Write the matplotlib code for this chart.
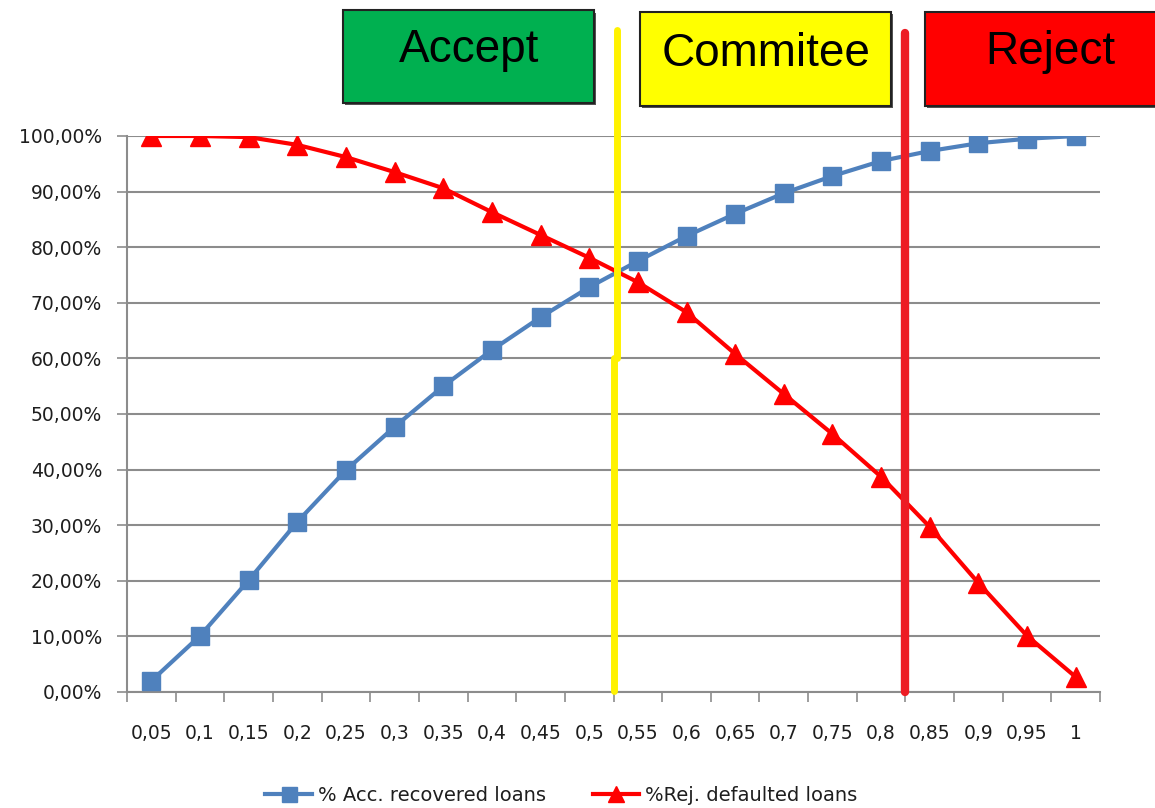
import numpy as np
import matplotlib
matplotlib.use("Agg")
import matplotlib.pyplot as plt
from matplotlib.patches import Rectangle

# cut-off scores on the x axis
cutoffs = ["0,05", "0,1", "0,15", "0,2", "0,25", "0,3", "0,35", "0,4", "0,45", "0,5",
           "0,55", "0,6", "0,65", "0,7", "0,75", "0,8", "0,85", "0,9", "0,95", "1"]

# share of recovered loans that get accepted (%)
acc_recovered = [2.0, 10.1, 20.1, 30.6, 39.9, 47.7, 55.0, 61.5, 67.4, 72.8,
                 77.5, 82.0, 86.0, 89.7, 92.8, 95.5, 97.3, 98.7, 99.5, 100.0]
# share of defaulted loans that get rejected (%)
rej_defaulted = [100.0, 100.0, 99.8, 98.4, 96.2, 93.5, 90.6, 86.3, 82.2, 78.1,
                 73.7, 68.3, 60.8, 53.6, 46.4, 38.7, 29.7, 19.6, 10.1, 2.7]

y_ticks = [0, 10, 20, 30, 40, 50, 60, 70, 80, 90, 100]
y_labels = ["0,00%", "10,00%", "20,00%", "30,00%", "40,00%", "50,00%",
            "60,00%", "70,00%", "80,00%", "90,00%", "100,00%"]

# decision boundaries (between categories) and the zones they separate
accept_cut = 9.5
reject_cut = 15.5
zones = ["Accept", "Commitee", "Reject"]
zone_colors = ["#00B050", "#FFFF00", "#FF0000"]

BLUE = "#4F81BD"
RED = "#FF0000"
GRID = "#8C8C8C"
LABEL = "#1e1e1e"

fig = plt.figure(figsize=(11.55, 8.08), dpi=100)
ax = fig.add_axes([0.110, 0.1436, 0.8424, 0.6881])

x = np.arange(len(cutoffs))
ax.plot(x, acc_recovered, color=BLUE, lw=3.0, marker="s", ms=13.5,
        label="% Acc. recovered loans", zorder=4)
ax.plot(x, rej_defaulted, color=RED, lw=3.0, marker="^", ms=14,
        label="%Rej. defaulted loans", zorder=4)

ax.set_xlim(-0.5, len(cutoffs) - 0.5)
ax.set_ylim(0, 100)

# tick marks sit between categories, labels at category centres
ax.set_xticks(np.arange(-0.5, len(cutoffs), 1.0))
ax.set_xticklabels([])
ax.set_xticks(x, minor=True)
ax.set_xticklabels(cutoffs, minor=True, fontsize=13.5, color=LABEL)
ax.tick_params(axis="x", which="major", length=7, width=1.2, color=GRID)
ax.tick_params(axis="x", which="minor", length=0, pad=23)

ax.set_yticks(y_ticks)
ax.set_yticklabels(y_labels, fontsize=13.5, color=LABEL)
ax.tick_params(axis="y", length=7, width=1.2, color=GRID, pad=11)

ax.grid(axis="y", color=GRID, lw=1.5)
ax.set_axisbelow(True)
for side in ["top", "right"]:
    ax.spines[side].set_visible(False)
for side in ["left", "bottom"]:
    ax.spines[side].set_color(GRID)
    ax.spines[side].set_linewidth(1.5)

# decision boundaries run up past the plot area towards the zone labels
ax.plot([accept_cut + 0.08, accept_cut + 0.08], [119.0, 60.0], color="#FFF200",
        lw=5, solid_capstyle="round", clip_on=False, zorder=5)
ax.plot([accept_cut, accept_cut], [60.0, 0.2], color="#FFF200",
        lw=5, solid_capstyle="round", clip_on=False, zorder=5)
ax.plot([reject_cut, reject_cut], [118.6, 0.0], color="#ED1C24",
        lw=6, solid_capstyle="round", clip_on=False, zorder=5)

# zone boxes along the top
boxes = [(0.297, 0.8725, 0.217, 0.1150),
         (0.554, 0.8688, 0.217, 0.1163),
         (0.801, 0.8688, 0.210, 0.1163)]
text_pos = [(0.406, 0.9233), (0.663, 0.9185), (0.909, 0.9210)]
for (bx, by, bw, bh), (tx, ty), name, col in zip(boxes, text_pos, zones, zone_colors):
    fig.patches.append(Rectangle((bx + 0.002, by - 0.003), bw, bh, transform=fig.transFigure,
                                 facecolor="#555555", edgecolor="none", zorder=1))
    fig.patches.append(Rectangle((bx, by), bw, bh, transform=fig.transFigure,
                                 facecolor=col, edgecolor="#222222", lw=1.5, zorder=2))
    fig.text(tx, ty, name, ha="center", va="baseline", fontsize=33,
             family="Liberation Sans", color="black", zorder=3)

fig.legend(loc="center", bbox_to_anchor=(0.486, 0.016), ncol=2, frameon=False,
           fontsize=14, handlelength=2.4, columnspacing=2.4, handletextpad=0.3,
           markerscale=0.8, labelcolor=LABEL)

fig.savefig("out.png", dpi=100)
